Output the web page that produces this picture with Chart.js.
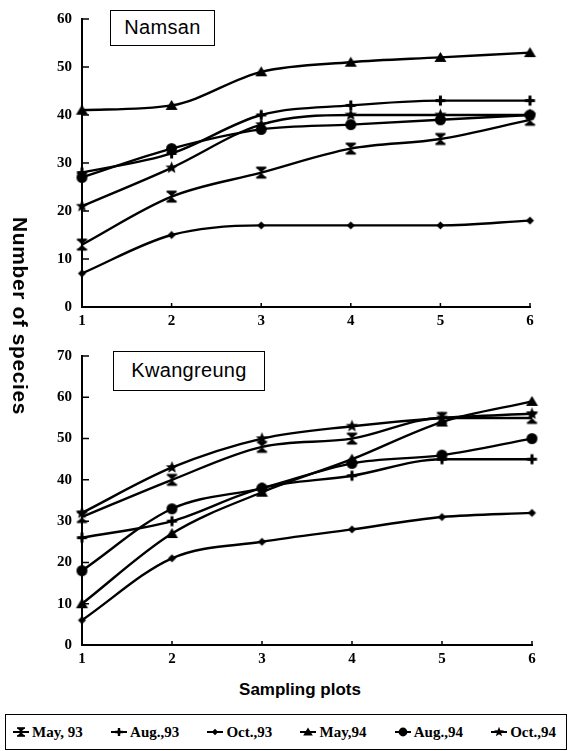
<!DOCTYPE html>
<html>
<head>
<meta charset="utf-8">
<script src="https://cdn.jsdelivr.net/npm/chart.js@4"></script>
<style>
    body { margin: 0; background: #fff; }
    #page { position: relative; width: 571px; height: 751px; overflow: hidden; font-family: "Liberation Sans", Arial, sans-serif; }
    .box { position: absolute; }
    .panel-label { position: absolute; border: 1.5px solid #000; background: #fff; font-size: 20px; letter-spacing: 0.3px; color: #000; text-align: center; box-sizing: border-box; }
    #yTitle { position: absolute; left: 20px; top: 316px; transform: translate(-50%, -50%) rotate(90deg); font-weight: bold; font-size: 21px; letter-spacing: 0.6px; white-space: nowrap; }
    #xTitle { position: absolute; left: 300px; top: 690px; transform: translate(-50%, -50%); font-weight: bold; font-size: 17px; white-space: nowrap; }
    #legend { position: absolute; left: 5px; top: 714px; width: 562px; height: 36px; border: 1.5px solid #000; box-sizing: border-box;
              display: flex; align-items: center; justify-content: space-between; padding: 0 10px 0 7px;
              font-family: "Liberation Serif", "Times New Roman", serif; font-weight: bold; font-size: 15px; }
    .item { display: flex; align-items: center; white-space: nowrap; }
    .item canvas { margin-right: 3px; }
</style>
</head>
<body>
<div id="page">
    <div class="box" style="left:0;top:0;width:560px;height:332px;"><canvas id="chartNamsan"></canvas></div>
    <div class="box" style="left:0;top:337px;width:562px;height:333px;"><canvas id="chartKwang"></canvas></div>
    <div class="panel-label" style="left:110px;top:10px;width:105px;height:36px;line-height:33px;">Namsan</div>
    <div class="panel-label" style="left:113px;top:351px;width:152px;height:40px;line-height:37px;">Kwangreung</div>
    <div id="yTitle">Number of species</div>
    <div id="xTitle">Sampling plots</div>
    <div id="legend"></div>
</div>
<script>
const plots = ["1", "2", "3", "4", "5", "6"];
const seriesNames = ["May, 93", "Aug.,93", "Oct.,93", "May,94", "Aug.,94", "Oct.,94"];

// Namsan
const namsanMay93 = [13, 23, 28, 33, 35, 39];
const namsanAug93 = [28, 32, 40, 42, 43, 43];
const namsanOct93 = [7, 15, 17, 17, 17, 18];
const namsanMay94 = [41, 42, 49, 51, 52, 53];
const namsanAug94 = [27, 33, 37, 38, 39, 40];
const namsanOct94 = [21, 29, 38, 40, 40, 40];

// Kwangreung
const kwangMay93 = [31, 40, 48, 50, 55, 55];
const kwangAug93 = [26, 30, 38, 41, 45, 45];
const kwangOct93 = [6, 21, 25, 28, 31, 32];
const kwangMay94 = [10, 27, 37, 45, 54, 59];
const kwangAug94 = [18, 33, 38, 44, 46, 50];
const kwangOct94 = [32, 43, 50, 53, 55, 56];

const namsanTicks = [0, 10, 20, 30, 40, 50, 60];
const kwangTicks = [0, 10, 20, 30, 40, 50, 60, 70];

// marker shapes, drawn centred at (cx, cy)
function drawMarker(ctx, kind, cx, cy) {
    ctx.fillStyle = "#000";
    ctx.strokeStyle = "#000";
    ctx.beginPath();
    if (kind === 0) { // hourglass
        ctx.moveTo(cx - 5, cy - 5); ctx.lineTo(cx + 5, cy - 5); ctx.lineTo(cx - 5, cy + 5); ctx.lineTo(cx + 5, cy + 5);
        ctx.closePath(); ctx.fill();
        ctx.fillRect(cx - 5, cy - 6, 10, 2); ctx.fillRect(cx - 5, cy + 4, 10, 2);
    } else if (kind === 1) { // plus
        ctx.fillRect(cx - 5, cy - 1.5, 10, 3); ctx.fillRect(cx - 1.5, cy - 5, 3, 10);
        ctx.moveTo(cx, cy - 3.5); ctx.lineTo(cx + 3.5, cy); ctx.lineTo(cx, cy + 3.5); ctx.lineTo(cx - 3.5, cy); ctx.closePath(); ctx.fill();
    } else if (kind === 2) { // small diamond
        ctx.moveTo(cx, cy - 4); ctx.lineTo(cx + 4, cy); ctx.lineTo(cx, cy + 4); ctx.lineTo(cx - 4, cy); ctx.closePath(); ctx.fill();
    } else if (kind === 3) { // triangle
        ctx.moveTo(cx, cy - 5.5); ctx.lineTo(cx + 6, cy + 4.5); ctx.lineTo(cx - 6, cy + 4.5); ctx.closePath(); ctx.fill();
    } else if (kind === 4) { // big dot
        ctx.arc(cx, cy, 5.5, 0, Math.PI * 2); ctx.fill();
    } else { // star
        for (let i = 0; i < 10; i++) {
            const r = i % 2 === 0 ? 6.5 : 2.8;
            const a = -Math.PI / 2 + i * Math.PI / 5;
            const x = cx + r * Math.cos(a), y = cy + r * Math.sin(a);
            if (i === 0) ctx.moveTo(x, y); else ctx.lineTo(x, y);
        }
        ctx.closePath(); ctx.fill();
    }
}

function markerCanvas(kind) {
    const c = document.createElement("canvas");
    c.width = 15; c.height = 15;
    drawMarker(c.getContext("2d"), kind, 7.5, 7.5);
    return c;
}

const markers = [0, 1, 2, 3, 4, 5].map(markerCanvas);

function makeDatasets(values) {
    return values.map((data, i) => ({
        label: seriesNames[i],
        data: data,
        borderColor: "#000",
        borderWidth: 2.4,
        pointStyle: markers[i],
        cubicInterpolationMode: "monotone",
        clip: false
    }));
}

// short tick marks pointing into the plot
const innerTicks = {
    id: "innerTicks",
    afterDraw(chart) {
        const ctx = chart.ctx;
        const x = chart.scales.x, y = chart.scales.y;
        ctx.save();
        ctx.strokeStyle = "#000";
        ctx.lineWidth = 1.5;
        ctx.beginPath();
        y.ticks.forEach((t, i) => {
            const py = y.getPixelForTick(i);
            ctx.moveTo(x.left, py); ctx.lineTo(x.left + 7, py);
        });
        x.ticks.forEach((t, i) => {
            const px = x.getPixelForTick(i);
            ctx.moveTo(px, y.bottom); ctx.lineTo(px, y.bottom - 4);
        });
        ctx.stroke();
        ctx.restore();
    }
};

const tickFont = { family: "Liberation Serif", size: 15, weight: "bold" };

function makeChart(id, values, maxY, padTop) {
    return new Chart(document.getElementById(id), {
        type: "line",
        data: { labels: plots, datasets: makeDatasets(values) },
        options: {
            responsive: true,
            maintainAspectRatio: false,
            animation: false,
            layout: { padding: { top: padTop, right: 30, left: 0, bottom: 0 } },
            scales: {
                x: {
                    offset: false,
                    grid: { drawOnChartArea: false, drawTicks: false },
                    border: { color: "#000", width: 2 },
                    ticks: { color: "#000", padding: 5, font: tickFont },
                    afterFit: s => { s.height = 25; }
                },
                y: {
                    min: 0,
                    max: maxY,
                    afterBuildTicks: s => { s.ticks = (maxY === 60 ? namsanTicks : kwangTicks).map(v => ({ value: v })); },
                    grid: { drawOnChartArea: false, drawTicks: false },
                    border: { color: "#000", width: 2 },
                    ticks: { color: "#000", padding: 10, font: tickFont },
                    afterFit: s => { s.width = 82; }
                }
            },
            plugins: { legend: { display: false }, tooltip: { enabled: false } }
        },
        plugins: [innerTicks]
    });
}

makeChart("chartNamsan", [namsanMay93, namsanAug93, namsanOct93, namsanMay94, namsanAug94, namsanOct94], 60, 15);
makeChart("chartKwang", [kwangMay93, kwangAug93, kwangOct93, kwangMay94, kwangAug94, kwangOct94], 70, 15);

// legend
const legend = document.getElementById("legend");
seriesNames.forEach((name, i) => {
    const item = document.createElement("div");
    item.className = "item";
    const c = document.createElement("canvas");
    c.width = 16; c.height = 14;
    const ctx = c.getContext("2d");
    ctx.fillStyle = "#000";
    ctx.fillRect(0, 6, 16, 2);
    ctx.save();
    ctx.translate(8, 7); ctx.scale(0.8, 0.8);
    drawMarker(ctx, i, 0, 0);
    ctx.restore();
    item.appendChild(c);
    const span = document.createElement("span");
    span.textContent = name;
    item.appendChild(span);
    legend.appendChild(item);
});
</script>
</body>
</html>
